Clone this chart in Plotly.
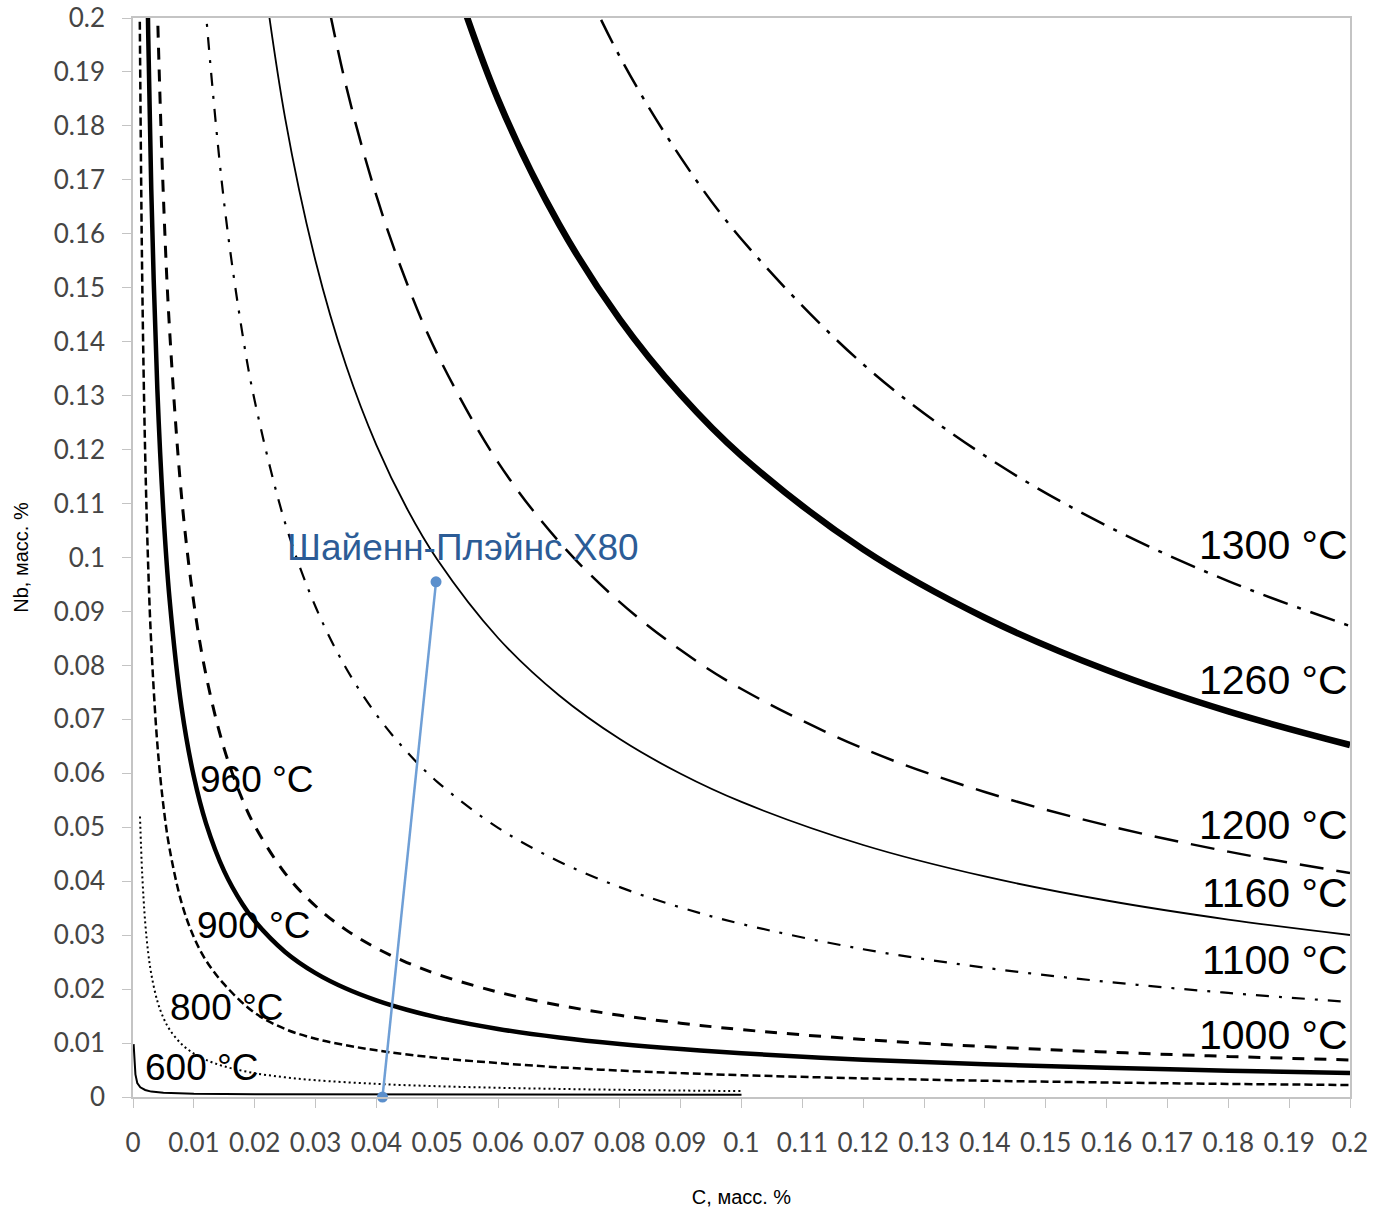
#!/usr/bin/env python3
"""
Nb-C solubility isotherms (NbC) with the Cheyenne Plains X80 composition line.
"""

import plotly.graph_objects as go

# Isotherms: C (mass %) vs Nb (mass %)
C_1300 = [0.07, 0.08, 0.09, 0.10, 0.12, 0.14, 0.16, 0.18, 0.20]
NB_1300 = [0.21647, 0.19285, 0.17417, 0.15900, 0.13580, 0.11885, 0.10589, 0.09563, 0.0873]

C_1260 = [0.05, 0.06, 0.07, 0.08, 0.09, 0.10, 0.12, 0.14, 0.16, 0.18, 0.20]
NB_1260 = [0.21645, 0.18487, 0.16179, 0.14414, 0.13018, 0.11884, 0.10150, 0.08883, 0.07914, 0.07147, 0.06525]

C_1200 = [0.03, 0.035, 0.04, 0.045, 0.05, 0.06, 0.07, 0.08, 0.09, 0.10, 0.12, 0.14, 0.16, 0.18, 0.20]
NB_1200 = [0.21426, 0.18751, 0.16706, 0.15088, 0.13773, 0.11764, 0.10295, 0.09172, 0.08284, 0.07562,
           0.06459, 0.05653, 0.05036, 0.04548, 0.04152]

C_1160 = [0.02, 0.025, 0.03, 0.035, 0.04, 0.045, 0.05, 0.06, 0.07, 0.08, 0.09, 0.10, 0.12, 0.14, 0.16, 0.18, 0.20]
NB_1160 = [0.22007, 0.18144, 0.15497, 0.13562, 0.12083, 0.10912, 0.09962, 0.08508, 0.07446, 0.06634,
           0.05991, 0.05469, 0.04671, 0.04088, 0.03642, 0.03289, 0.03003]

C_1100 = [0.011, 0.012, 0.015, 0.018, 0.02, 0.025, 0.03, 0.035, 0.04, 0.045, 0.05, 0.06, 0.07, 0.08, 0.09,
          0.10, 0.12, 0.14, 0.16, 0.18, 0.20]
NB_1100 = [0.2164, 0.20077, 0.16551, 0.14137, 0.12905, 0.10640, 0.09087, 0.07953, 0.07086, 0.06399, 0.05842,
           0.04989, 0.04367, 0.03890, 0.03513, 0.03207, 0.02739, 0.02397, 0.02136, 0.01929, 0.01761]

C_1000 = [0.0035, 0.004, 0.005, 0.006, 0.008, 0.01, 0.012, 0.015, 0.018, 0.02, 0.025, 0.03, 0.035, 0.04, 0.045,
          0.05, 0.06, 0.07, 0.08, 0.09, 0.10, 0.12, 0.14, 0.16, 0.18, 0.20]
NB_1000 = [0.2271, 0.20226, 0.16676, 0.14244, 0.11106, 0.09155, 0.07821, 0.06447, 0.05507, 0.05027, 0.04145,
           0.03540, 0.03098, 0.02760, 0.02493, 0.02276, 0.01944, 0.01701, 0.01515, 0.01369, 0.01249, 0.01067,
           0.00934, 0.00832, 0.00751, 0.00686]

C_960 = [0.0022, 0.0025, 0.003, 0.004, 0.005, 0.006, 0.008, 0.01, 0.012, 0.015, 0.018, 0.02, 0.025, 0.03,
         0.035, 0.04, 0.045, 0.05, 0.06, 0.07, 0.08, 0.09, 0.10, 0.12, 0.14, 0.16, 0.18, 0.20]
NB_960 = [0.22006, 0.19705, 0.16829, 0.13120, 0.10818, 0.09240, 0.07204, 0.05939, 0.05073, 0.04182, 0.03572,
          0.03261, 0.02689, 0.02296, 0.02010, 0.01791, 0.01617, 0.01476, 0.01261, 0.01103, 0.00983, 0.00888,
          0.00811, 0.00692, 0.00606, 0.00540, 0.00488, 0.00445]

C_900 = [0.001, 0.0015, 0.002, 0.0025, 0.003, 0.004, 0.005, 0.006, 0.008, 0.01, 0.012, 0.015, 0.02, 0.025,
         0.03, 0.035, 0.04, 0.05, 0.06, 0.07, 0.08, 0.09, 0.10, 0.12, 0.14, 0.16, 0.18, 0.20]
NB_900 = [0.21714, 0.15291, 0.11921, 0.09830, 0.08396, 0.06545, 0.05397, 0.04610, 0.03594, 0.02963, 0.02531,
          0.02087, 0.01560, 0.01260, 0.01080, 0.00960, 0.00865, 0.00725, 0.00629, 0.00551, 0.00490, 0.00443,
          0.00404, 0.00345, 0.00302, 0.00269, 0.00243, 0.00222]

C_800 = [0.00115, 0.0015, 0.002, 0.0025, 0.003, 0.004, 0.005, 0.006, 0.008, 0.01, 0.012, 0.015, 0.02, 0.025,
         0.03, 0.04, 0.05, 0.06, 0.07, 0.08, 0.09, 0.10]
NB_800 = [0.052, 0.04157, 0.03241, 0.02672, 0.02282, 0.01779, 0.01467, 0.01253, 0.00977, 0.00805, 0.00688,
          0.00567, 0.00442, 0.00365, 0.00311, 0.00243, 0.00200, 0.00171, 0.00150, 0.00133, 0.00120, 0.00110]

C_600 = [0.0001, 0.0002, 0.0004, 0.0007, 0.0012, 0.002, 0.003, 0.005, 0.01, 0.02, 0.05, 0.1]
NB_600 = [0.0098, 0.0072, 0.0042, 0.0026, 0.0018, 0.0013, 0.001, 0.0008, 0.0006, 0.0005, 0.00045, 0.0004]

# Cheyenne Plains X80 composition line
C_X80 = [0.041, 0.0498]
NB_X80 = [0.0, 0.0955]

# Axis ticks
TICK_VALS = [i / 100 for i in range(21)]
TICK_TEXT = ['0', '0.01', '0.02', '0.03', '0.04', '0.05', '0.06', '0.07', '0.08', '0.09', '0.1',
             '0.11', '0.12', '0.13', '0.14', '0.15', '0.16', '0.17', '0.18', '0.19', '0.2']

# (label, x, y, anchor, size)
LABELS = [
    ('1300 °C', 0.2, 0.1023, 'right', 41),
    ('1260 °C', 0.2, 0.0773, 'right', 41),
    ('1200 °C', 0.2, 0.0504, 'right', 41),
    ('1160 °C', 0.2, 0.0378, 'right', 41),
    ('1100 °C', 0.2, 0.0254, 'right', 41),
    ('1000 °C', 0.2, 0.0115, 'right', 41),
    ('960 °C', 0.0107, 0.0588, 'left', 37),
    ('900 °C', 0.0102, 0.0317, 'left', 37),
    ('800 °C', 0.0057, 0.0165, 'left', 37),
    ('600 °C', 0.0016, 0.0054, 'left', 37),
]

curves = [
    (C_1300, NB_1300, 2.5, '26px,10px,4px,10px'),
    (C_1260, NB_1260, 6.5, 'solid'),
    (C_1200, NB_1200, 2.5, '24px,13px'),
    (C_1160, NB_1160, 1.8, 'solid'),
    (C_1100, NB_1100, 2.2, '13px,10px,3px,10px'),
    (C_1000, NB_1000, 3, '12px,10px'),
    (C_960, NB_960, 4.5, 'solid'),
    (C_900, NB_900, 2.5, '8px,4px'),
    (C_800, NB_800, 2, '2px,3px'),
]

fig = go.Figure()

for cx, nb, w, dash in curves:
    fig.add_trace(go.Scatter(
        x=cx, y=nb, mode='lines',
        line=dict(color='black', width=w, dash=dash, shape='spline', smoothing=1),
        hoverinfo='skip'
    ))

fig.add_trace(go.Scatter(
    x=C_600, y=NB_600, mode='lines',
    line=dict(color='black', width=2),
    hoverinfo='skip'
))

fig.add_trace(go.Scatter(
    x=C_X80, y=NB_X80, mode='lines+markers',
    line=dict(color='#6f9fd6', width=2.5),
    marker=dict(color='#5b8fcc', size=11),
    cliponaxis=False,
    hoverinfo='skip'
))

for text, x, y, anchor, size in LABELS:
    fig.add_annotation(
        x=x, y=y, text=text, showarrow=False, xanchor=anchor, yanchor='middle',
        font=dict(family='Liberation Sans, Arial, sans-serif', size=size, color='black')
    )

fig.add_annotation(
    x=0.025, y=0.1018, text='Шайенн-Плэйнс X80', showarrow=False, xanchor='left', yanchor='middle',
    font=dict(family='Liberation Sans, Arial, sans-serif', size=37, color='#2c5c96')
)

axis_style = dict(
    range=[0, 0.2],
    tickvals=TICK_VALS,
    ticktext=TICK_TEXT,
    showline=True,
    linecolor='#c4c4c4',
    linewidth=1.5,
    mirror=True,
    ticks='outside',
    tickcolor='#c4c4c4',
    ticklen=9,
    showgrid=False,
    zeroline=False,
    automargin=False,
    ticklabeloverflow='allow',
    tickfont=dict(family='Lato, sans-serif', size=26, color='#454545'),
)

fig.update_layout(
    width=1374,
    height=1212,
    autosize=False,
    showlegend=False,
    plot_bgcolor='white',
    paper_bgcolor='white',
    margin=dict(l=133, r=24, t=18, b=115),
    xaxis=dict(
        **axis_style,
        ticklabelstandoff=13,
        title=dict(text='C, масс. %', standoff=33,
                   font=dict(family='Liberation Sans, Arial, sans-serif', size=20, color='black')),
    ),
    yaxis=dict(
        **axis_style,
        ticklabelstandoff=12,
        title=dict(text='Nb, масс. %', standoff=20,
                   font=dict(family='Liberation Sans, Arial, sans-serif', size=20, color='black')),
    ),
)

# drop the default 8px page margin so the figure fills the window exactly
fig.write_html('out.html', config={'displayModeBar': False},
               post_script="document.body.style.margin = '0';")
